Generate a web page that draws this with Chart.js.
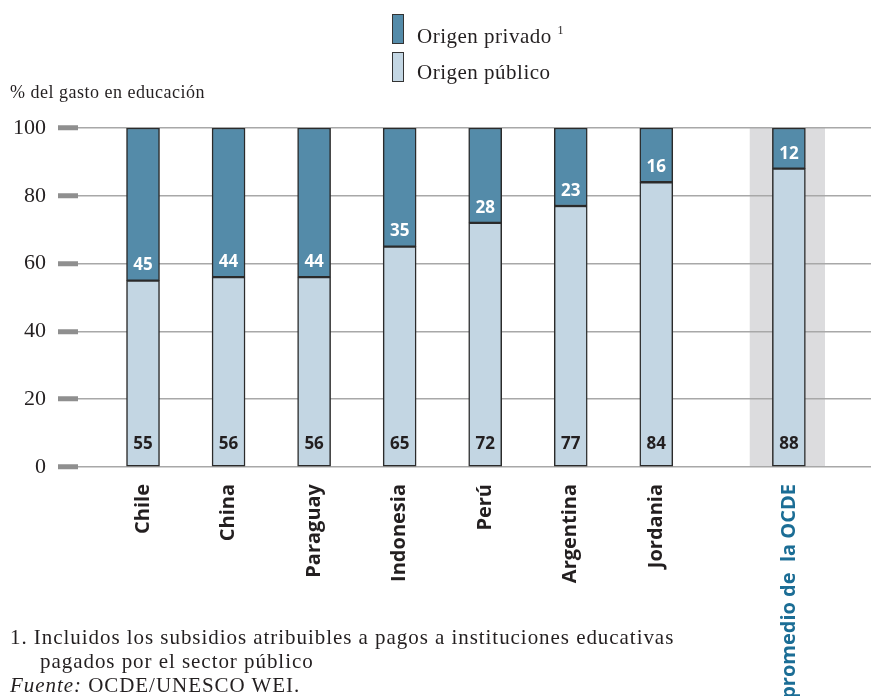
<!DOCTYPE html>
<html>
<head>
<meta charset="utf-8">
<script src="https://cdn.jsdelivr.net/npm/chart.js@4"></script>
<style>
  html, body { margin:0; padding:0; background:#fff; }
  body { width:871px; height:696px; position:relative; overflow:hidden; font-family:'Liberation Serif', serif; color:#231f20; }
  #c { position:absolute; left:0; top:0; }
  .txt { position:absolute; white-space:nowrap; line-height:1; }
  .box { position:absolute; left:392px; width:10px; height:28px; border:1.5px solid #333; }
  #foot { position:absolute; left:10px; top:625px; font-size:21px; line-height:24px; letter-spacing:0.95px; white-space:nowrap; }
</style>
</head>
<body>
<canvas id="c" width="871" height="696"></canvas>

<div class="box" style="top:14px;background:#548ba9"></div>
<div class="txt" style="left:417px;top:24px;font-size:21px;letter-spacing:0.5px">Origen privado <span style="font-size:12px;vertical-align:9px">1</span></div>
<div class="box" style="top:52px;background:#c3d6e3"></div>
<div class="txt" style="left:417px;top:62px;font-size:21px;letter-spacing:0.5px">Origen público</div>

<div class="txt" style="left:10px;top:83px;font-size:18px;letter-spacing:0.5px">% del gasto en educación</div>

<div id="foot">1. Incluidos los subsidios atribuibles a pagos a instituciones educativas<br><span style="padding-left:30px">pagados por el sector público</span><br><i>Fuente:</i> OCDE/UNESCO WEI.</div>

<script>
// values
const categories = ['Chile', 'China', 'Paraguay', 'Indonesia', 'Perú', 'Argentina', 'Jordania', 'promedio de  la OCDE'];
const slots = [0, 1, 2, 3, 4, 5, 6, 7.55];   // OCDE average set apart after a gap
const publico = [55, 56, 56, 65, 72, 77, 84, 88];
const privado = [45, 44, 44, 35, 28, 23, 16, 12];
const yTicks = [0, 20, 40, 60, 80, 100];

const DARK = '#548ba9', LIGHT = '#c3d6e3', INK = '#231f20', OCDE_BLUE = '#1b6d95';

// grey band behind the OCDE bar (drawn under the grid)
const bandPlugin = {
  id: 'band',
  beforeDraw(chart) {
    const { ctx, chartArea: a, scales: { x } } = chart;
    const step = x.getPixelForValue(1) - x.getPixelForValue(0);
    const cx = x.getPixelForValue(slots[slots.length - 1]) - 1.5;
    ctx.save();
    ctx.fillStyle = '#dcdcde';
    ctx.fillRect(cx - step * 0.44, a.top, step * 0.88, a.bottom - a.top);
    ctx.restore();
  }
};

// numbers inside the bars
const valuePlugin = {
  id: 'values',
  afterDatasetsDraw(chart) {
    const ctx = chart.ctx;
    ctx.save();
    ctx.font = 'bold 17px "Open Sans"';
    ctx.textAlign = 'center';
    ctx.textBaseline = 'middle';
    chart.getDatasetMeta(0).data.forEach((bar, i) => {
      ctx.fillStyle = INK;
      ctx.fillText(publico[i], bar.x, bar.base - 22);
    });
    chart.getDatasetMeta(1).data.forEach((bar, i) => {
      ctx.fillStyle = '#fff';
      ctx.fillText(privado[i], bar.x, bar.base - 15);
    });
    ctx.restore();
  }
};

const barStyle = { borderColor: '#2b2b2b', borderWidth: 1.5, borderSkipped: false, barThickness: 33 };

new Chart(document.getElementById('c'), {
  type: 'bar',
  data: {
    datasets: [
      { label: 'Origen público', data: slots.map((s, i) => ({ x: s, y: publico[i] })), backgroundColor: LIGHT, ...barStyle },
      { label: 'Origen privado', data: slots.map((s, i) => ({ x: s, y: privado[i] })), backgroundColor: DARK, ...barStyle },
    ]
  },
  options: {
    responsive: false,
    animation: false,
    layout: { padding: { top: 128, left: 0, right: 0, bottom: 0 } },
    plugins: { legend: { display: false }, tooltip: { enabled: false } },
    scales: {
      x: {
        type: 'linear', stacked: true, offset: false, min: -0.76, max: 8.51,
        grid: { display: false, drawTicks: false, offset: false },
        border: { display: false },
        afterBuildTicks: s => { s.ticks = slots.map(v => ({ value: v })); },
        afterFit: s => { s.height = 229; },
        ticks: {
          autoSkip: false, minRotation: 90, maxRotation: 90, padding: 17,
          font: { family: 'Open Sans', weight: 'bold', size: 20 },
          color: c => c.index === categories.length - 1 ? OCDE_BLUE : INK,
          callback: (v, i) => categories[i]
        }
      },
      y: {
        stacked: true, min: 0, max: 100,
        afterBuildTicks: s => { s.ticks = yTicks.map(v => ({ value: v })); },
        afterFit: s => { s.width = 78; },
        grid: { color: '#a8a8a8', lineWidth: 1.5, tickLength: 20, tickWidth: 5, tickColor: '#8f8f8f' },
        border: { display: false },
        ticks: { padding: 12, color: INK, font: { family: 'Liberation Serif', size: 22 } }
      }
    }
  },
  plugins: [bandPlugin, valuePlugin]
});
</script>
</body>
</html>
